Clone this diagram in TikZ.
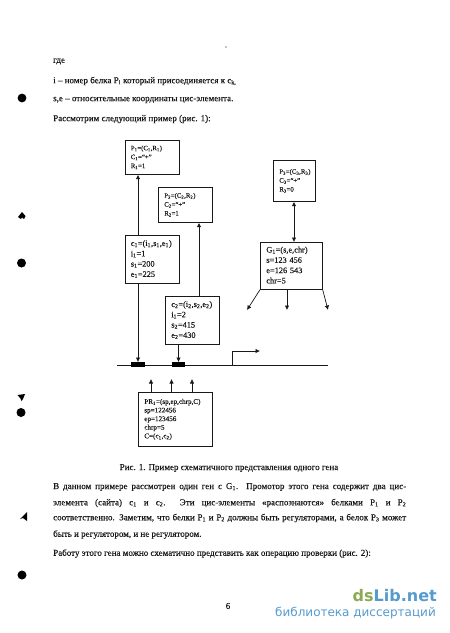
\documentclass[tikz,border=0pt]{standalone}
\usepackage{fontspec}
\setmainfont{Liberation Serif}[FakeBold=0.2]
\newfontfamily\wmfont{DejaVu Sans}
\usetikzlibrary{arrows.meta}
\newcommand{\dn}[1]{\textsubscript{#1}}
\definecolor{ink}{gray}{0.1}
\definecolor{wmgreen}{RGB}{140,170,85}
\definecolor{wmblue}{RGB}{85,155,205}
\tikzset{
  x=1pt,y=-1pt,
  every node/.style={text=ink,inner sep=0pt},
  para/.style={anchor=west,font=\fontsize{9}{10}\selectfont},
  pbox/.style={draw=ink,line width=.7pt,anchor=north west,align=left,inner sep=0pt},
  ptext/.style={font=\fontsize{6.7}{8.9}\selectfont},
  ctext/.style={font=\fontsize{8.3}{10.3}\selectfont},
  prtext/.style={font=\fontsize{7.1}{8.6}\selectfont},
  link/.style={draw=ink,line width=.7pt,-{Latex[length=4.5pt,width=4.5pt]}},
  biglink/.style={draw=ink,line width=.7pt,{Latex[length=4.5pt,width=4.5pt]}-{Latex[length=4.5pt,width=4.5pt]}},
  site/.style={fill=black,minimum width=13.5pt,minimum height=4.5pt,inner sep=0pt},
  blot/.style={fill=black,draw=none},
}
\newcommand{\bx}[7]{% name, x1, y1, w, h, style, text
  \node[pbox,#6,minimum width=#4pt,minimum height=#5pt,text width=#4pt-6pt] (#1) at (#2,#3)
    {\hspace*{3pt}\begin{tabular}{@{}l@{}}#7\end{tabular}};}
\newcommand{\fullline}[1]{\hbox to 353pt{#1}}
\begin{document}
\begin{tikzpicture}
\useasboundingbox (0,0) rectangle (450,633);
\fill[white] (0,0) rectangle (450,633);

\node[para] (t1) at (53,61.5) {где};
\node[para] (t2) at (53,81) {i – номер белка P\dn{i} который присоединяется к с\dn{k,}};
\node[para] (t3) at (53,100) {s,e – относительные координаты цис-элемента.};
\node[para] (t4) at (53,119) {Рассмотрим следующий пример (рис. 1):};

\bx{P1}{124.5}{140}{54}{34}{ptext}{P\dn{1}=(C\dn{1},R\dn{1})\\C\dn{1}=“+”\\R\dn{1}=1}
\bx{P2}{158}{187}{54}{35}{ptext}{P\dn{2}=(C\dn{2},R\dn{2})\\C\dn{2}=“+”\\R\dn{2}=1}
\bx{P3}{273}{160}{42}{41}{ptext}{P\dn{3}=(C\dn{3},R\dn{3})\\C\dn{3}=“+”\\R\dn{3}=0}
\bx{C1}{124.5}{235}{54}{48}{ctext}{c\dn{1}=(i\dn{1},s\dn{1},e\dn{1})\\i\dn{1}=1\\s\dn{1}=200\\e\dn{1}=225}
\bx{C2}{165}{296}{54}{48}{ctext}{c\dn{2}=(i\dn{2},s\dn{2},e\dn{2})\\i\dn{1}=2\\s\dn{2}=415\\e\dn{2}=430}
\bx{G1}{260}{242}{62}{47}{ctext}{G\dn{1}=(s,e,chr)\\s=123 456\\e=126 543\\chr=5}
\bx{PR}{138}{392}{74}{54}{prtext}{PR\dn{1}=(sp,ep,chrp,C)\\sp=122456\\ep=123456\\chrp=5\\C=(c\dn{1},c\dn{2})}

% DNA line and sites
\coordinate (dnaL) at (117,365);
\coordinate (dnaR) at (328,365);
\coordinate (tss) at (232,365);
\coordinate (tssT) at (232,351);
\coordinate (tssE) at (260,351);
\draw[draw=ink,line width=.8pt] (dnaL) -- (dnaR);
\node[site] (S1) at (138,364.5) {};
\node[site] (S2) at (178.5,364.5) {};
\draw[link] (tss) -- (tssT) -- (tssE);

% connectors
\draw[link] (C1.north -| S1) -- (P1.south -| S1);
\draw[link] (C1.south -| S1) -- (S1.north);
\draw[link] (C2.south -| S2) -- (S2.north);
\coordinate (p2x) at (199,300);
\draw[link] (C2.north -| p2x) -- (P2.south -| p2x);
\coordinate (p3x) at (294,220);
\draw[biglink] (P3.south -| p3x) -- (G1.north -| p3x);

% gene product arrows
\coordinate (ga) at (247,310);
\coordinate (gb) at (287,310);
\coordinate (gc) at (328,310);
\draw[link] (G1.south west) -- (ga);
\draw[link] (G1.south -| gb) -- (gb);
\draw[link] (G1.south east) -- (gc);

% promoter arrows
\coordinate (pa) at (151,379);
\coordinate (pb) at (171.5,379);
\coordinate (pc) at (192,379);
\draw[link] (PR.north -| pa) -- (pa);
\draw[link] (PR.north -| pb) -- (pb);
\draw[link] (PR.north -| pc) -- (pc);

% caption and body
\node[font=\fontsize{9}{10}\selectfont] (cap) at (229,468) {Рис. 1. Пример схематичного представления одного гена};
\node[para] (b1) at (53,487) {\fullline{В данном примере рассмотрен один ген с G\dn{1}. Промотор этого гена содержит два цис-}};
\node[para] (b2) at (53,503) {\fullline{элемента (сайта) с\dn{1} и с\dn{2}.\ \ Эти цис-элементы «распознаются» белками P\dn{1} и P\dn{2}}};
\node[para] (b3) at (53,518) {\fullline{соответственно. Заметим, что белки P\dn{1} и P\dn{2} должны быть регуляторами, а белок P\dn{3} может}};
\node[para] (b4) at (53,534.5) {быть и регулятором, и не регулятором.};
\node[para] (b5) at (53,553.5) {Работу этого гена можно схематично представить как операцию проверки (рис. 2):};
\node[font=\fontsize{9}{10}\selectfont] (pg) at (228,606) {6};

% watermark
\node[anchor=east,font=\wmfont\bfseries\fontsize{16}{16}\selectfont,text=wmgreen] (wm) at (437,596) {ds\textcolor{wmblue}{Lib.net}};
\node[anchor=east,font=\wmfont\fontsize{12}{12}\selectfont,text=wmblue] (wm2) at (436,613) {библиотека диссертаций};

% scanner marks
\fill[blot] (22,98) circle (4.4);
\fill[blot] (21.5,263) circle (4.5);
\fill[blot] (21,412.5) circle (4.5);
\fill[blot] (22,575) circle (4.5);
\fill[blot] (18,217) -- (22,212) -- (25.5,216) -- (24,219) -- (22,217.5) -- (21,219) -- cycle;
\fill[blot] (17.5,395) -- (25,394) -- (23,399) -- (21.5,401) -- (20.5,398.5) -- cycle;
\fill[blot] (20,519) -- (27,512) -- (27,521) -- (23,518) -- cycle;
\fill[blot] (226,47) circle (.7);
\end{tikzpicture}
\end{document}
